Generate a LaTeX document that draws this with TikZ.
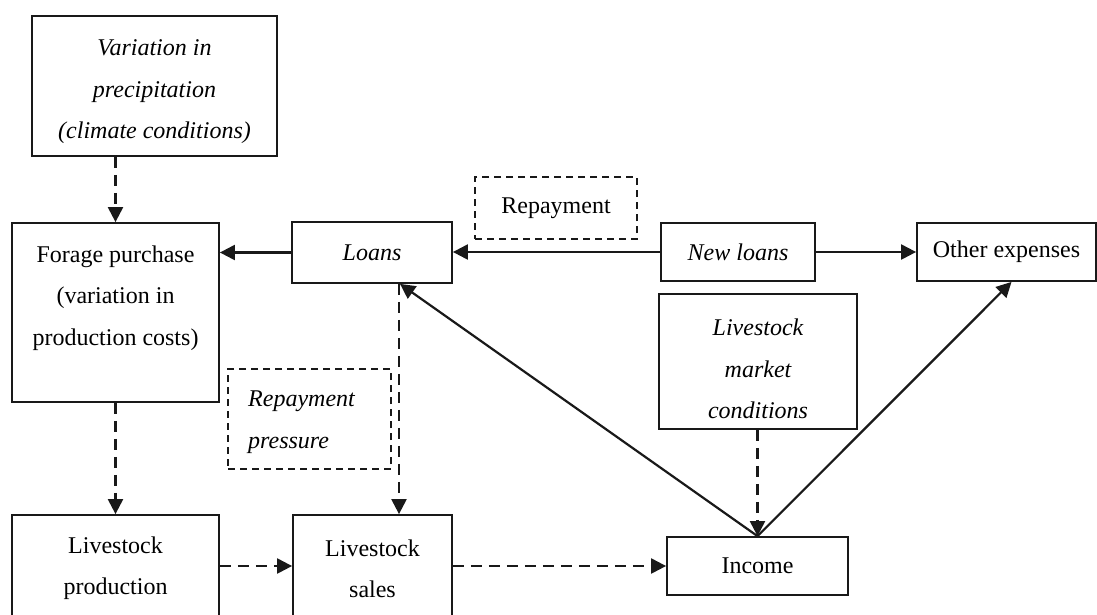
\documentclass[tikz,border=0pt]{standalone}
\usepackage{fontspec}
\setmainfont{Liberation Serif}
\usetikzlibrary{arrows.meta,calc}
\newcommand\fsz{\fontsize{24}{41.5}\selectfont}
\tikzset{
  box/.style={draw=black!90, line width=1.8pt, inner sep=0pt, align=center, font=\fsz},
  dbox/.style={box, dash pattern=on 7pt off 5pt, line width=1.6pt},
  txt/.style={inner sep=0pt, align=center, font=\fsz},
  itxt/.style={txt, font=\fsz\itshape},
  sarr/.style={line width=2.2pt, draw=black!90, -{Triangle[length=15pt,width=15pt]}},
  darr/.style={sarr, dash pattern=on 11pt off 7pt},
}
\begin{document}
\begin{tikzpicture}[x=1pt,y=-1pt]
\useasboundingbox (0,0) rectangle (1097,614);
\clip (0,0) rectangle (1097,614);
% boxes
\node[box, minimum width=245pt, minimum height=140pt] (clim) at (154.5,86) {};
\node[itxt] (climtxt) at (154.5,92) {Variation in\\precipitation\\(climate conditions)};
\node[box, minimum width=207pt, minimum height=179pt] (forage) at (115.5,312.5) {};
\node[txt] (foragetxt) at (115.5,298) {Forage purchase\\(variation in\\production costs)};
\node[box, font=\fsz\itshape, minimum width=160pt, minimum height=61pt] (loans) at (372,252.5) {Loans};
\node[dbox, minimum width=162pt, minimum height=62pt] (repay) at (556,208) {Repayment};
\node[box, font=\fsz\itshape, minimum width=154pt, minimum height=58pt] (newloans) at (738,252) {New loans};
\node[box, minimum width=179pt, minimum height=58pt] (other) at (1006.5,252) {Other expenses};
\node[box, minimum width=198pt, minimum height=135pt] (market) at (758,361.5) {};
\node[itxt] (markettxt) at (758,369) {Livestock\\market\\conditions};
\node[box, minimum width=181pt, minimum height=58pt] (income) at (757.5,566) {Income};
\node[dbox, minimum width=163pt, minimum height=100pt] (press) at (309.5,419) {};
\node[itxt, align=left, anchor=west] (presstxt) at (248,422) {Repayment\\pressure};
\node[box, minimum width=207pt, minimum height=125pt] (prod) at (115.5,577.5) {};
\node[txt] (prodtxt) at (115.5,568) {Livestock\\production};
\node[box, minimum width=159pt, minimum height=125pt] (sales) at (372.5,577.5) {};
\node[txt] (salestxt) at (372.5,569) {Livestock\\sales};
% helper coordinates
\coordinate (lb) at ([xshift=28pt]loans.south);
\coordinate (ob) at ([xshift=5pt]other.south);
% connectors
\draw[darr] (forage.north |- clim.south) -- (forage.north);
\draw[sarr] (loans.west) -- (loans.west -| forage.east);
\draw[sarr] (newloans.west) -- (newloans.west -| loans.east);
\draw[sarr] (newloans.east) -- (newloans.east -| other.west);
\draw[sarr] (income.north) -- (lb);
\draw[sarr] (income.north) -- (ob);
\draw[darr] (market.south -| income.north) -- (income.north);
\draw[darr] ([xshift=-1pt]lb) -- ([xshift=-1pt]lb |- sales.north);
\draw[darr] (forage.south) -- (prod.north);
\draw[darr] (prod.east |- income.west) -- (sales.west |- income.west);
\draw[darr] (sales.east |- income.west) -- (income.west);
\end{tikzpicture}
\end{document}
